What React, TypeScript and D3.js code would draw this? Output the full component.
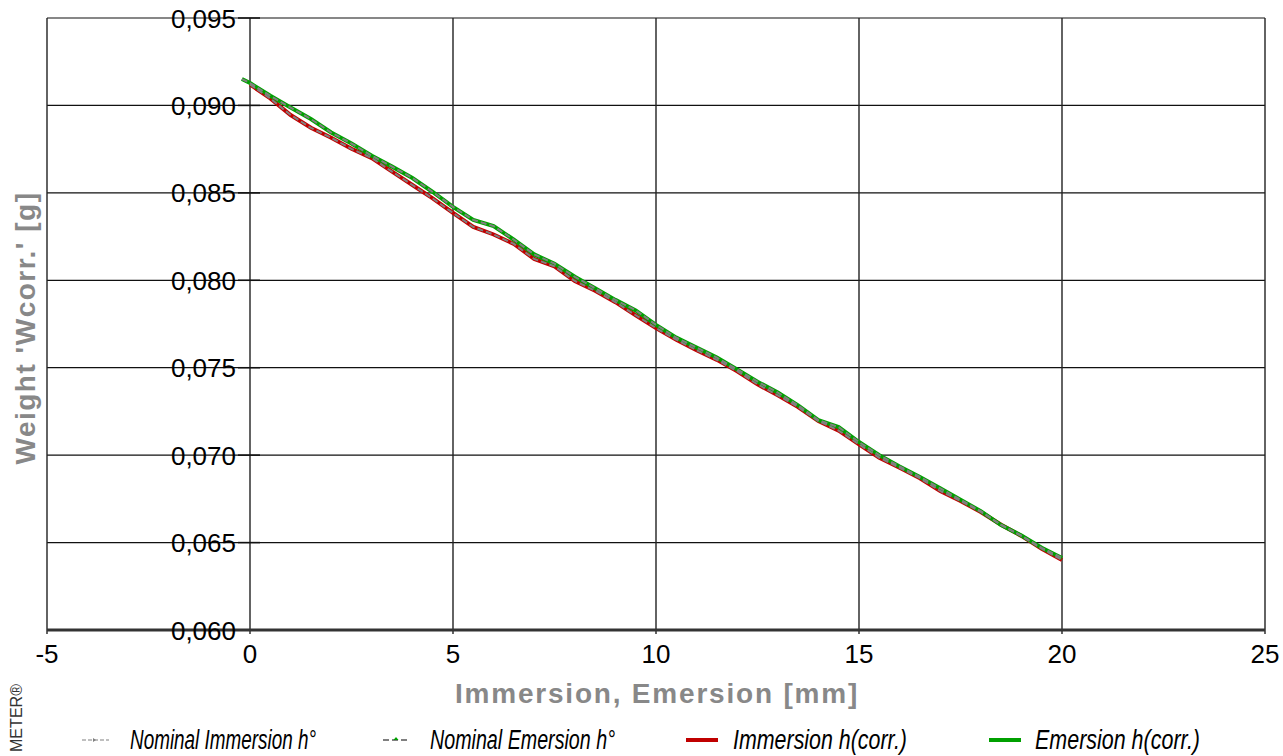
import React, { useRef, useEffect } from "react";
import * as d3 from "d3";

// immersion / emersion position [mm]
const immersionX = [0, 0.5, 1, 1.5, 2, 2.5, 3, 3.5, 4, 4.5, 5, 5.5, 6, 6.5, 7, 7.5, 8, 8.5, 9, 9.5, 10,
  10.5, 11, 11.5, 12, 12.5, 13, 13.5, 14, 14.5, 15, 15.5, 16, 16.5, 17, 17.5, 18, 18.5, 19, 19.5, 20];
const immersionW = [0.0912, 0.0904, 0.08945, 0.08872, 0.08815, 0.08752, 0.08699, 0.08621, 0.08545, 0.08468,
  0.08385, 0.08305, 0.08262, 0.08208, 0.08122, 0.0808, 0.07996, 0.0794, 0.07875, 0.078, 0.07727,
  0.0766, 0.076, 0.07545, 0.0748, 0.07405, 0.07342, 0.07275, 0.07195, 0.0714, 0.07062,
  0.06985, 0.06928, 0.06868, 0.06795, 0.06738, 0.06675, 0.06602, 0.06538, 0.06465, 0.064];

const emersionX = [-0.2, 0, 0.5, 1, 1.5, 2, 2.5, 3, 3.5, 4, 4.5, 5, 5.5, 6, 6.5, 7, 7.5, 8, 8.5, 9, 9.5, 10,
  10.5, 11, 11.5, 12, 12.5, 13, 13.5, 14, 14.5, 15, 15.5, 16, 16.5, 17, 17.5, 18, 18.5, 19, 19.5, 20];
const emersionW = [0.09151, 0.09128, 0.09055, 0.08988, 0.08922, 0.08845, 0.08782, 0.08712, 0.0865, 0.08585,
  0.08505, 0.0842, 0.08345, 0.0831, 0.08232, 0.08148, 0.08095, 0.0802, 0.07955, 0.07888, 0.07828, 0.07745,
  0.07672, 0.07615, 0.07558, 0.0749, 0.0742, 0.07358, 0.07285, 0.072, 0.0716, 0.07075,
  0.07, 0.06935, 0.06875, 0.0681, 0.06745, 0.0668, 0.066, 0.0654, 0.0647, 0.06412];

const xTicks = [-5, 0, 5, 10, 15, 20, 25];
const yTicks = [0.06, 0.065, 0.07, 0.075, 0.08, 0.085, 0.09, 0.095];

const legendLabels = ["Nominal Immersion h°", "Nominal Emersion h°", "Immersion h(corr.)", "Emersion h(corr.)"];

const RED = "#c00000";
const GREEN = "#00a000";
const GRAY = "#808080";

const App = () => {
  const svgRef = useRef(null);

  useEffect(() => {
    const svg = d3.select(svgRef.current);
    svg.selectAll("*").remove();

    const W = 1283, H = 756;
    const left = 47, right = 1265, top = 18, bottom = 630;

    svg.attr("width", W).attr("height", H);
    svg.append("rect").attr("width", W).attr("height", H).attr("fill", "#fff");

    const x = d3.scaleLinear().domain([-5, 25]).range([left, right]);
    const y = d3.scaleLinear().domain([0.06, 0.095]).range([bottom, top]);

    // grid
    svg.append("g").selectAll("line").data(yTicks).enter().append("line")
      .attr("x1", left).attr("x2", right)
      .attr("y1", d => y(d)).attr("y2", d => y(d))
      .attr("stroke", "#111").attr("stroke-width", 1.2);

    svg.append("g").selectAll("line").data(xTicks).enter().append("line")
      .attr("x1", d => x(d)).attr("x2", d => x(d))
      .attr("y1", top).attr("y2", bottom + 4)
      .attr("stroke", "#222").attr("stroke-width", 1.4);

    // y axis ticks at x = 0
    svg.append("g").selectAll("line").data(yTicks).enter().append("line")
      .attr("x1", x(0) - 12).attr("x2", x(0) + 10)
      .attr("y1", d => y(d)).attr("y2", d => y(d))
      .attr("stroke", "#111").attr("stroke-width", 1.5);

    // bottom axis
    svg.append("line")
      .attr("x1", left).attr("x2", right)
      .attr("y1", bottom).attr("y2", bottom)
      .attr("stroke", "#333").attr("stroke-width", 3);

    const fmt = d3.format(".3f");
    svg.append("g").selectAll("text").data(yTicks).enter().append("text")
      .attr("x", x(0) - 14).attr("y", d => y(d) + 9.5)
      .attr("text-anchor", "end")
      .style("font-family", "Arial, 'Liberation Sans', sans-serif")
      .style("font-size", "26px").attr("fill", "#000")
      .text(d => fmt(d).replace(".", ","));

    svg.append("g").selectAll("text").data(xTicks).enter().append("text")
      .attr("x", d => x(d)).attr("y", 663)
      .attr("text-anchor", "middle")
      .style("font-family", "Arial, 'Liberation Sans', sans-serif")
      .style("font-size", "26px").attr("fill", "#000")
      .text(d => d);

    // axis titles
    svg.append("text")
      .attr("x", 657).attr("y", 703)
      .attr("text-anchor", "middle")
      .style("font-family", "Arial, 'Liberation Sans', sans-serif")
      .style("font-size", "28px").style("font-weight", "bold").style("letter-spacing", "1.8px")
      .attr("fill", "#888")
      .text("Immersion, Emersion [mm]");

    svg.append("text")
      .attr("transform", "translate(35,328) rotate(-90)")
      .attr("text-anchor", "middle")
      .style("font-family", "Arial, 'Liberation Sans', sans-serif")
      .style("font-size", "28px").style("font-weight", "bold").style("letter-spacing", "1.5px")
      .attr("fill", "#888")
      .text("Weight 'Wcorr.' [g]");

    // series
    const line = d3.line().x(d => x(d[0])).y(d => y(d[1]));
    const imm = immersionX.map((v, i) => [v, immersionW[i]]);
    const emr = emersionX.map((v, i) => [v, emersionW[i]]);

    svg.append("path").datum(imm).attr("d", line)
      .attr("fill", "none").attr("stroke", RED).attr("stroke-width", 4);
    svg.append("path").datum(emr).attr("d", line)
      .attr("fill", "none").attr("stroke", GREEN).attr("stroke-width", 4);
    svg.append("path").datum(imm).attr("d", line)
      .attr("fill", "none").attr("stroke", GRAY).attr("stroke-width", 2).attr("stroke-dasharray", "6,3");
    svg.append("path").datum(emr).attr("d", line)
      .attr("fill", "none").attr("stroke", GRAY).attr("stroke-width", 2).attr("stroke-dasharray", "6,3");

    // legend
    const legX = [82, 383, 686, 989];
    const legY = 740;
    const lg = svg.append("g");
    lg.append("line").attr("x1", legX[0]).attr("x2", legX[0] + 27).attr("y1", legY).attr("y2", legY)
      .attr("stroke", GRAY).attr("stroke-width", 1.2).attr("stroke-dasharray", "4,2");
    lg.append("path").attr("d", `M${legX[0] + 11},${legY - 2}l3,2l-3,2z`).attr("fill", GRAY);
    lg.append("line").attr("x1", legX[1]).attr("x2", legX[1] + 27).attr("y1", legY).attr("y2", legY)
      .attr("stroke", GRAY).attr("stroke-width", 2).attr("stroke-dasharray", "6,3");
    lg.append("path").attr("d", `M${legX[1] + 13},${legY - 3}l2.5,3h-5z`).attr("fill", GREEN);
    lg.append("line").attr("x1", legX[2]).attr("x2", legX[2] + 32).attr("y1", legY).attr("y2", legY)
      .attr("stroke", RED).attr("stroke-width", 4);
    lg.append("line").attr("x1", legX[3]).attr("x2", legX[3] + 32).attr("y1", legY).attr("y2", legY)
      .attr("stroke", GREEN).attr("stroke-width", 4);

    const textX = [130, 430, 733, 1035];
    const textW = [186, 185, 174, 165];
    legendLabels.forEach((t, i) => {
      lg.append("text")
        .attr("x", textX[i]).attr("y", 749)
        .attr("textLength", textW[i]).attr("lengthAdjust", "spacingAndGlyphs")
        .style("font-family", "Arial, 'Liberation Sans', sans-serif")
        .style("font-size", "27px").style("font-style", "italic")
        .attr("fill", "#000")
        .text(t);
    });

    // brand mark in the lower left corner
    svg.append("text")
      .attr("transform", "translate(22,684) rotate(-90)")
      .attr("text-anchor", "end")
      .attr("textLength", 68).attr("lengthAdjust", "spacingAndGlyphs")
      .style("font-family", "Arial, 'Liberation Sans', sans-serif")
      .style("font-size", "17px").attr("fill", "#333")
      .text("METER®");
  }, []);

  return (
    <div style={{ position: "absolute", left: 0, top: 0, width: 1283, height: 756 }}>
      <svg ref={svgRef} style={{ display: "block" }}></svg>
    </div>
  );
};

export default App;
